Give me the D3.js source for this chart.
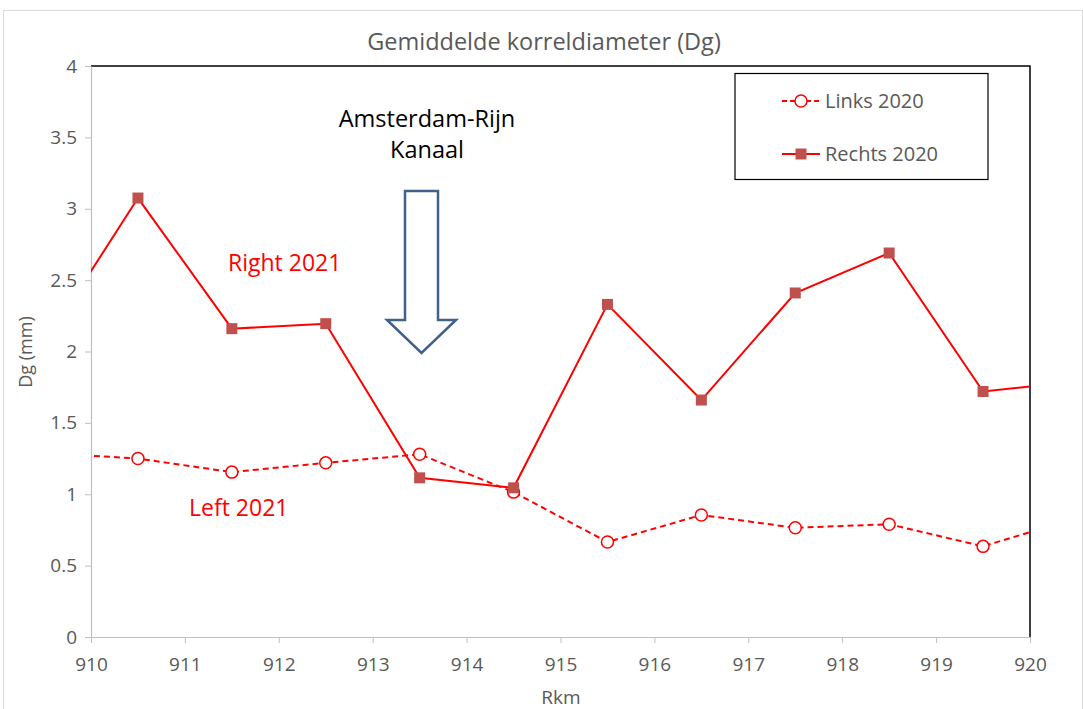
<!DOCTYPE html>
<html>
<head>
<meta charset="utf-8">
<script src="https://cdn.jsdelivr.net/npm/d3@7"></script>
<style>
  html, body { margin: 0; padding: 0; background: #fff; }
  svg { display: block; font-family: "Open Sans", Lato, sans-serif; }
</style>
</head>
<body>
<svg id="chart" width="1083" height="709"></svg>
<script>
// Grain-size measurements along the river (Rkm), left and right bank
const rkm = [909.5, 910.5, 911.5, 912.5, 913.5, 914.5, 915.5, 916.5, 917.5, 918.5, 919.5, 920.5];
const links2020 = [1.29, 1.25, 1.155, 1.22, 1.28, 1.015, 0.665, 0.855, 0.765, 0.79, 0.635, 0.835];
const rechts2020 = [2.05, 3.075, 2.16, 2.195, 1.115, 1.045, 2.33, 1.66, 2.41, 2.69, 1.72, 1.79];
const xTicks = [910, 911, 912, 913, 914, 915, 916, 917, 918, 919, 920];
const yTicks = [0, 0.5, 1, 1.5, 2, 2.5, 3, 3.5, 4];
const seriesNames = ["Links 2020", "Rechts 2020"];

const svg = d3.select("#chart");
const W = 1083, H = 709;
const m = { left: 91, right: 1030, top: 66, bottom: 637 };

// outer chart frame
svg.append("rect").attr("x", 3.5).attr("y", 10.5).attr("width", W - 4).attr("height", H - 6)
  .attr("fill", "#fff").attr("stroke", "#d9d9d9").attr("stroke-width", 1);

const x = d3.scaleLinear().domain([910, 920]).range([m.left, m.right]);
const y = d3.scaleLinear().domain([0, 4]).range([m.bottom, m.top]);

// clip region for plot area
svg.append("defs").append("clipPath").attr("id", "plotClip")
  .append("rect").attr("x", m.left).attr("y", m.top)
  .attr("width", m.right - m.left).attr("height", m.bottom - m.top);

// plot area border (top and right in black)
svg.append("path")
  .attr("d", `M${m.left},${m.top}H${m.right}V${m.bottom}`)
  .attr("fill", "none").attr("stroke", "#000").attr("stroke-width", 1.5);

// axes
const gx = svg.append("g").attr("transform", `translate(0,${m.bottom})`)
  .call(d3.axisBottom(x).tickValues(xTicks).tickFormat(d3.format("d")).tickSizeInner(6).tickSizeOuter(0));
const gy = svg.append("g").attr("transform", `translate(${m.left},0)`)
  .call(d3.axisLeft(y).tickValues(yTicks).tickFormat(d => d).tickSizeInner(6).tickSizeOuter(0));
[gx, gy].forEach(g => {
  g.select(".domain").attr("stroke", "#bfbfbf").attr("stroke-width", 1.2);
  g.selectAll(".tick line").attr("stroke", "#bfbfbf");
  g.selectAll(".tick text").attr("fill", "#595959").attr("font-size", 19)
    .attr("font-family", "'Open Sans', sans-serif");
});
gx.selectAll(".tick text").attr("dy", "1.3em");
gy.selectAll(".tick text").attr("dx", "-5px");

// title and axis titles
svg.append("text").attr("x", 544).attr("y", 50).attr("text-anchor", "middle")
  .attr("font-size", 23.5).attr("fill", "#595959").text("Gemiddelde korreldiameter (Dg)");
svg.append("text").attr("transform", "translate(32,352) rotate(-90)").attr("text-anchor", "middle")
  .attr("font-size", 18).attr("fill", "#595959").text("Dg (mm)");
svg.append("text").attr("x", 561).attr("y", 704).attr("text-anchor", "middle")
  .attr("font-size", 19).attr("fill", "#595959").text("Rkm");

// series lines
const line = d3.line().x((d, i) => x(rkm[i])).y(d => y(d));
const plot = svg.append("g").attr("clip-path", "url(#plotClip)");
plot.append("path").datum(links2020).attr("d", line)
  .attr("fill", "none").attr("stroke", "#ff0000").attr("stroke-width", 2).attr("stroke-dasharray", "6,4");
plot.append("path").datum(rechts2020).attr("d", line)
  .attr("fill", "none").attr("stroke", "#ff0000").attr("stroke-width", 2);

// markers
plot.selectAll("circle.links").data(links2020).enter().append("circle")
  .attr("cx", (d, i) => x(rkm[i])).attr("cy", d => y(d)).attr("r", 6)
  .attr("fill", "#fff").attr("stroke", "#ff0000").attr("stroke-width", 1.5);
plot.selectAll("rect.rechts").data(rechts2020).enter().append("rect")
  .attr("x", (d, i) => x(rkm[i]) - 5.5).attr("y", d => y(d) - 5.5)
  .attr("width", 11).attr("height", 11).attr("fill", "#c0504d");

// annotations
const ann = svg.append("g").attr("font-size", 23.5).attr("fill", "#000").attr("text-anchor", "middle");
ann.append("text").attr("x", 427).attr("y", 127).text("Amsterdam-Rijn");
ann.append("text").attr("x", 427).attr("y", 158).text("Kanaal");
svg.append("text").attr("x", 228).attr("y", 271).attr("font-size", 23).attr("fill", "#ff0000").text("Right 2021");
svg.append("text").attr("x", 189).attr("y", 516).attr("font-size", 23).attr("fill", "#ff0000").text("Left 2021");

// block arrow pointing down at the canal
svg.append("path")
  .attr("d", "M405,191H438V320H456L421.5,353L387,320H405Z")
  .attr("fill", "#fff").attr("stroke", "#41618c").attr("stroke-width", 2.5).attr("stroke-linejoin", "miter");

// legend
const lg = svg.append("g");
lg.append("rect").attr("x", 735).attr("y", 73.5).attr("width", 253).attr("height", 106)
  .attr("fill", "#fff").attr("stroke", "#000").attr("stroke-width", 1.2);
const rows = [101, 154];
rows.forEach((ry, i) => {
  lg.append("line").attr("x1", 782).attr("x2", 820).attr("y1", ry).attr("y2", ry)
    .attr("stroke", "#ff0000").attr("stroke-width", 2).attr("stroke-dasharray", i === 0 ? "5,3" : null);
  if (i === 0) {
    lg.append("circle").attr("cx", 801).attr("cy", ry).attr("r", 6)
      .attr("fill", "#fff").attr("stroke", "#ff0000").attr("stroke-width", 1.5);
  } else {
    lg.append("rect").attr("x", 795.5).attr("y", ry - 5.5).attr("width", 11).attr("height", 11).attr("fill", "#c0504d");
  }
  lg.append("text").attr("x", 825).attr("y", ry + 7).attr("font-size", 20).attr("fill", "#595959").text(seriesNames[i]);
});
</script>
</body>
</html>
